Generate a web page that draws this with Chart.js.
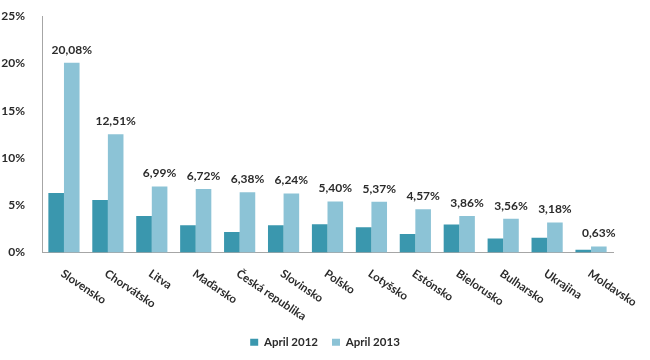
<!DOCTYPE html>
<html>
<head>
<meta charset="utf-8">
<script src="https://cdn.jsdelivr.net/npm/chart.js@4/dist/chart.umd.min.js"></script>
<style>
html,body{margin:0;padding:0;background:#fff;}
#wrap{width:650px;height:360px;position:relative;}
</style>
</head>
<body>
<div id="wrap"><canvas id="c" width="650" height="360"></canvas></div>
<script>
const categories = ["Slovensko","Chorvátsko","Litva","Maďarsko","Česká republika","Slovinsko","Poľsko","Lotyšsko","Estónsko","Bielorusko","Bulharsko","Ukrajina","Moldavsko"];
const april2012 = [6.3, 5.55, 3.86, 2.88, 2.18, 2.88, 2.98, 2.67, 1.97, 2.95, 1.47, 1.55, 0.28];
const april2013 = [20.08, 12.51, 6.99, 6.72, 6.38, 6.24, 5.40, 5.37, 4.57, 3.86, 3.56, 3.18, 0.63];
const yTicks = [0, 5, 10, 15, 20, 25];
const seriesNames = ["April 2012", "April 2013"];

const FONT = "Lato, 'Open Sans', sans-serif";
const TEXT = "#2b2b2b";

const rotatedLabels = {
  id: 'rotatedLabels',
  afterDraw(chart) {
    const ctx = chart.ctx;
    const xs = chart.scales.x;
    const y0 = chart.chartArea.bottom;
    ctx.save();
    ctx.font = "bold 11.5px " + FONT;
    ctx.fillStyle = TEXT;
    ctx.textAlign = 'left';
    ctx.textBaseline = 'middle';
    categories.forEach((lab, i) => {
      const x = xs.getPixelForTick(i);
      ctx.save();
      ctx.translate(x - 2, y0 + 20);
      ctx.rotate(34 * Math.PI / 180);
      ctx.fillText(lab, 0, 0);
      ctx.restore();
    });
    ctx.restore();
  }
};

const valueLabels = {
  id: 'valueLabels',
  afterDatasetsDraw(chart) {
    const ctx = chart.ctx;
    const meta = chart.getDatasetMeta(1);
    ctx.save();
    ctx.font = "bold 12px " + FONT;
    ctx.fillStyle = TEXT;
    ctx.textAlign = 'center';
    ctx.textBaseline = 'bottom';
    meta.data.forEach((bar, i) => {
      const txt = april2013[i].toFixed(2).replace('.', ',') + '%';
      ctx.fillText(txt, bar.x, bar.y - 7);
    });
    ctx.restore();
  }
};

new Chart(document.getElementById('c'), {
  type: 'bar',
  data: {
    labels: categories,
    datasets: [
      { label: seriesNames[0], data: april2012, backgroundColor: '#3A97AE', barPercentage: 1.0, categoryPercentage: 0.71 },
      { label: seriesNames[1], data: april2013, backgroundColor: '#8CC3D6', barPercentage: 1.0, categoryPercentage: 0.71 }
    ]
  },
  options: {
    responsive: false,
    animation: false,
    devicePixelRatio: 1,
    layout: { padding: { left: 0, right: 0, top: 11, bottom: 2 } },
    plugins: {
      legend: {
        position: 'bottom',
        labels: {
          boxWidth: 8,
          boxHeight: 7,
          padding: 14,
          color: TEXT,
          font: { family: FONT, size: 11.5, weight: 'bold' }
        }
      },
      tooltip: { enabled: false }
    },
    scales: {
      x: {
        grid: { display: false },
        border: { display: true, color: '#a6a6a6' },
        ticks: { display: false },
        afterFit(scale) { scale.height = 70; }
      },
      y: {
        min: 0,
        max: 25,
        afterBuildTicks(scale) { scale.ticks = yTicks.map(v => ({ value: v })); },
        afterFit(scale) { scale.width = 42; },
        grid: { display: false },
        border: { display: true, color: '#a6a6a6' },
        ticks: {
          padding: 9,
          color: TEXT,
          font: { family: FONT, size: 12, weight: 'bold' },
          callback: v => v + '%'
        }
      },
      yRight: {
        position: 'right',
        min: 0,
        max: 25,
        grid: { display: false },
        border: { display: false },
        ticks: { display: false },
        afterFit(scale) { scale.width = 37; }
      }
    }
  },
  plugins: [rotatedLabels, valueLabels]
});
</script>
</body>
</html>
